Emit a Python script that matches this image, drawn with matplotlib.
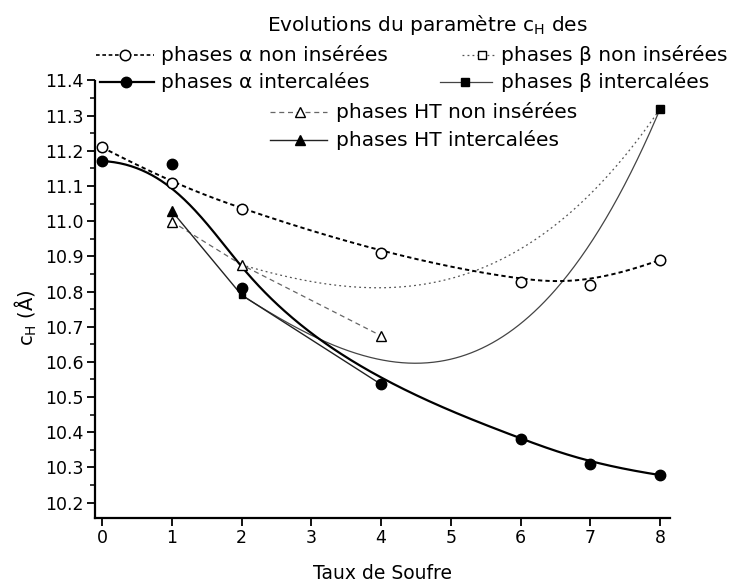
import numpy as np
import matplotlib
matplotlib.use("Agg")
import matplotlib.pyplot as plt
from matplotlib.lines import Line2D
from matplotlib.ticker import MultipleLocator

# --- data ---
x_alpha = [0, 1, 2, 4, 6, 7, 8]
alpha_non = [11.21, 11.108, 11.034, 10.91, 10.828, 10.819, 10.89]
alpha_int = [11.171, 11.162, 10.809, 10.536, 10.381, 10.309, 10.278]

x_beta = [2, 4, 6, 8]
beta_non = [10.876, 10.76, 10.74, 11.32]
beta_int = [10.79, 10.536, 10.381, 11.32]

x_ht = [1, 2, 4]
ht_non = [10.999, 10.876, 10.674]
ht_int = [11.029, 10.79, 10.536]

W, H = 734, 584


def bspline(xs, ys, k=3, n=400):
    """Clamped B-spline using the points as control points (Origin style)."""
    xs = np.asarray(xs, float)
    ys = np.asarray(ys, float)
    m = len(xs)
    k = min(k, m - 1)
    knots = np.r_[np.zeros(k), np.linspace(0, 1, m - k + 1), np.ones(k)]
    u = np.linspace(0, 1, n)
    B = np.zeros((n, len(knots) - 1))
    for i in range(len(knots) - 1):
        B[:, i] = (knots[i] <= u) & (u < knots[i + 1])
    last = max(i for i in range(len(knots) - 1) if knots[i] < knots[i + 1])
    B[-1, :] = 0
    B[-1, last] = 1
    for p in range(1, k + 1):
        Bn = np.zeros((n, len(knots) - 1 - p))
        for i in range(len(knots) - 1 - p):
            d1 = knots[i + p] - knots[i]
            d2 = knots[i + p + 1] - knots[i + 1]
            t1 = (u - knots[i]) / d1 * B[:, i] if d1 > 0 else 0
            t2 = (knots[i + p + 1] - u) / d2 * B[:, i + 1] if d2 > 0 else 0
            Bn[:, i] = t1 + t2
        B = Bn
    return B @ xs, B @ ys


fig = plt.figure(figsize=(W / 100, H / 100), dpi=100)
ax = fig.add_axes([95 / W, 1 - 518 / H, (670 - 95) / W, (518 - 80.5) / H])

# curves
bx, by = bspline(x_alpha, alpha_non)
ax.plot(bx, by, color="black", lw=1.4, ls=(0, (2.2, 1.6)), zorder=3)
bx, by = bspline(x_alpha, alpha_int)
ax.plot(bx, by, color="black", lw=1.6, zorder=3)
bx, by = bspline(x_beta, beta_non)
ax.plot(bx, by, color="#555555", lw=0.9, ls=(0, (1.5, 2.5)), zorder=2)
bx, by = bspline(x_beta, beta_int)
ax.plot(bx, by, color="#444444", lw=0.9, zorder=2)
ax.plot(x_ht, ht_non, color="#666666", lw=0.9, ls=(0, (4, 3)), zorder=2)
ax.plot(x_ht, ht_int, color="#222222", lw=1.0, zorder=2)

# markers
ax.plot(x_beta, beta_non, "s", mfc="white", mec="black", ms=6, mew=1,
        markevery=[3], zorder=4)
ax.plot(x_beta, beta_int, "s", color="black", ms=5, zorder=5)
ax.plot(x_ht, ht_non, "^", mfc="white", mec="black", ms=7.5, mew=1, zorder=6)
ax.plot(x_ht, ht_int, "^", color="black", ms=7.5, markevery=[0], zorder=6)
ax.plot(x_alpha, alpha_non, "o", mfc="white", mec="black", ms=7.5, mew=1.1, zorder=6)
ax.plot(x_alpha, alpha_int, "o", color="black", ms=7.5, zorder=7)

# axes
ax.set_xlim(-0.1, 8.14)
ax.set_ylim(10.156, 11.4)
ax.set_xticks(range(0, 9))
ax.yaxis.set_major_locator(MultipleLocator(0.1))
ax.yaxis.set_minor_locator(MultipleLocator(0.05))
ax.yaxis.set_major_formatter(plt.FuncFormatter(lambda v, p: f"{v:.1f}"))
for s in ("top", "right"):
    ax.spines[s].set_visible(False)
for s in ("left", "bottom"):
    ax.spines[s].set_linewidth(1.6)
ax.tick_params(direction="out", length=6, width=1.3, labelsize=12.5, pad=2)
ax.tick_params(which="minor", direction="out", length=3.5, width=1.1)
ax.set_xlabel("Taux de Soufre", fontsize=13.5)
ax.xaxis.set_label_coords(0.5, -0.126)
ax.xaxis.label.set_va("center")
ax.set_ylabel("c$_\\mathregular{H}$ (Å)", fontsize=14)
ax.yaxis.set_label_coords(-0.12, 0.457)
ax.yaxis.label.set_va("center")

# legend drawn by hand, as in the original
fs = 14.5
fig.text(427 / W, 1 - 25 / H, "Evolutions du paramètre c$_\\mathregular{H}$ des",
         ha="center", va="center", fontsize=fs)


def entry(x1, x2, xm, y, text, xt, line_kw, mk_kw):
    fy = 1 - y / H
    fig.add_artist(Line2D([x1 / W, x2 / W], [fy, fy], **line_kw))
    fig.add_artist(Line2D([xm / W], [fy], ls="none", **mk_kw))
    fig.text(xt / W, fy, text, va="center", ha="left", fontsize=fs)


entry(96, 154, 125, 55, "phases α non insérées", 161,
      dict(color="black", lw=1.2, ls=(0, (2.2, 1.6))),
      dict(marker="o", mfc="white", mec="black", ms=7.5, mew=1.1))
entry(100, 154, 126, 82, "phases α intercalées", 161,
      dict(color="black", lw=1.6),
      dict(marker="o", color="black", ms=7.5))
entry(462, 496, 482, 55, "phases β non insérées", 501,
      dict(color="#555555", lw=0.9, ls=(0, (1.5, 2.5))),
      dict(marker="s", mfc="white", mec="black", ms=6, mew=1))
entry(440, 492, 465, 82, "phases β intercalées", 501,
      dict(color="#444444", lw=0.9),
      dict(marker="s", color="black", ms=5.5))
entry(270, 327, 300, 112, "phases HT non insérées", 336,
      dict(color="#666666", lw=0.9, ls=(0, (4, 3))),
      dict(marker="^", mfc="white", mec="black", ms=7.5, mew=1))
entry(270, 327, 300, 140, "phases HT intercalées", 336,
      dict(color="#222222", lw=1.0),
      dict(marker="^", color="black", ms=7.5))

fig.savefig("out.png", dpi=100)
